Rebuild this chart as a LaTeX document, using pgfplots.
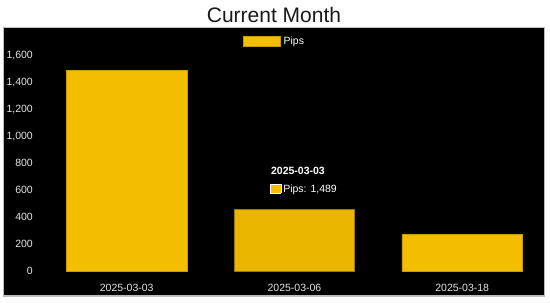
\documentclass[border=0pt]{standalone}
\usepackage{fontspec}
\setmainfont{Liberation Sans}
\usepackage{pgfplots}
\pgfplotsset{compat=1.18}
\definecolor{barc}{HTML}{F3BD00}
\definecolor{bard}{HTML}{C99A00}
\definecolor{barh}{HTML}{EBB600}
\definecolor{barhd}{HTML}{9C7800}
\definecolor{tickc}{HTML}{E6E6E6}
\definecolor{framec}{HTML}{BDBDBD}
\begin{document}
\begin{tikzpicture}
\begin{axis}[
  scale only axis, width=541pt, height=268.5pt,
  xmin=-0.7344, xmax=2.4906, ymin=-185.7, ymax=1808.5,
  axis background/.style={fill=black},
  axis line style={draw=framec, line width=1.5pt},
  xtick={0,1,2}, xticklabels={2025-03-03,2025-03-06,2025-03-18},
  ytick={0,200,...,1600},
  major tick length=0pt,
  tick label style={font=\fontsize{10.5}{12}\selectfont, text=tickc, inner sep=0pt},
  xticklabel style={anchor=center, yshift=8.5pt},
  yticklabel style={anchor=east, xshift=29.5pt},
  /pgf/number format/1000 sep={,},
  /pgf/number format/assume math mode=true,
  legend style={at={(axis cs:0.6933,1708.3)}, anchor=west, draw=none, fill=none,
    inner sep=0pt, outer sep=0pt, text=white, font=\fontsize{10.5}{12}\selectfont,
    nodes={inner sep=0pt}, /tikz/every odd column/.append style={column sep=3pt}},
]
\addplot[ybar, bar width=0.7195, bar shift=0pt, fill=barc, draw=bard, line width=0.6pt,
  legend image code/.code={\draw[fill=barc, draw=bard, line width=0.6pt] (0pt,-5pt) rectangle (37pt,5pt);}]
  coordinates {(0,1489) (2,270)};
\addlegendentry{Pips}
\addplot[ybar, bar width=0.7195, bar shift=0pt, fill=barh, draw=barhd, line width=0.6pt, forget plot]
  coordinates {(1,461)};
\node[text=white, font=\bfseries\fontsize{10.5}{12}\selectfont, inner sep=0pt] at (axis cs:1.021,742.7) {2025-03-03};
\node[text=white, font=\fontsize{10.5}{12}\selectfont, inner sep=0pt] at (axis cs:1.053,605)
  {{\setlength{\fboxsep}{0pt}\setlength{\fboxrule}{0.7pt}\fcolorbox{white}{barc}{\rule{0pt}{8pt}\rule{10pt}{0pt}}}\hspace{2pt}Pips: 1,489};
\end{axis}
\node[font=\fontsize{21}{25}\selectfont, text=black!90, inner sep=0pt] at (270.5pt,280.8pt) {Current Month};
\pgfresetboundingbox
\path (-3.5pt,-7pt) rectangle (546.5pt,296pt);
\end{tikzpicture}
\end{document}
